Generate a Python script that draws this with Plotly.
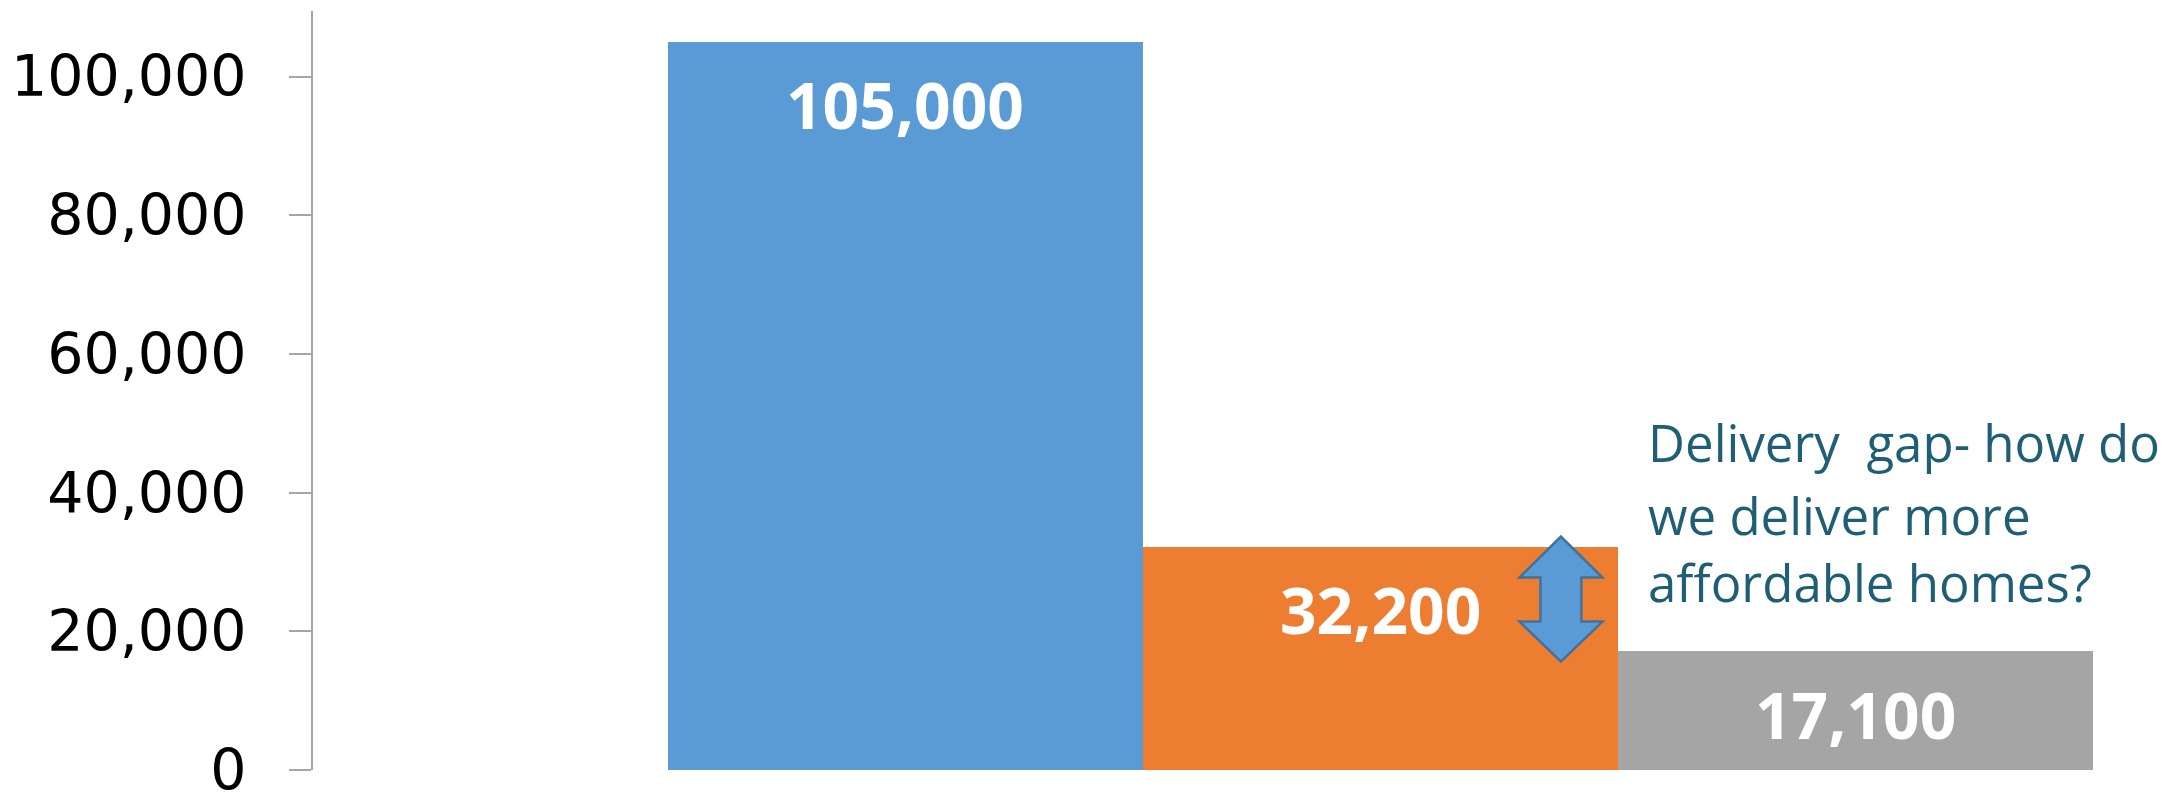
import plotly.graph_objects as go

# ---- data ----
categories = ["A", "B", "C"]
values = [105000, 32200, 17100]
bar_colors = ["#5B9BD5", "#ED7D31", "#A5A5A5"]
value_labels = ["105,000", "32,200", "17,100"]
tick_vals = [0, 20000, 40000, 60000, 80000, 100000]
tick_text = ["0", "20,000", "40,000", "60,000", "80,000", "100,000"]
note_lines = ["Delivery\u00a0 gap- how do", "we deliver more", "affordable homes?"]

# page body has an 8px default margin, so the figure is a bit smaller than the window
W, H = 2167, 786
fig = go.Figure()
fig.add_trace(go.Bar(
    x=categories, y=values, marker=dict(color=bar_colors, line=dict(width=0)),
    width=1, hoverinfo="skip", showlegend=False,
))

annotations = []
for c, v, t in zip(categories, values, value_labels):
    annotations.append(dict(
        x=c, y=v, xref="x", yref="y", text=t, showarrow=False,
        yanchor="middle", xanchor="center", yshift=-63,
        font=dict(family="Open Sans", size=64, color="white", weight="bold"),
    ))

# note text, placed over the gap
note_y = [47300, 36800, 27100]
for line, yv in zip(note_lines, note_y):
    annotations.append(dict(
        x=1.559, y=yv, xref="x", yref="y", text=line, showarrow=False,
        xanchor="left", yanchor="middle",
        font=dict(family="Open Sans", size=51, color="#1F5F75"),
    ))

# double-headed arrow between the orange and grey bar tops
gap_mid = (values[1] + values[2]) / 2
cx = -57
path = (
    f"M {cx},62.5 L {cx+41.5},21.5 L {cx+20.5},21.5 L {cx+20.5},-22.5 "
    f"L {cx+41.5},-22.5 L {cx},-62.5 L {cx-41.5},-22.5 L {cx-20.5},-22.5 "
    f"L {cx-20.5},21.5 L {cx-41.5},21.5 Z"
)
shapes = [dict(
    type="path", xref="x", yref="y", xsizemode="pixel", ysizemode="pixel",
    xanchor=1.5, yanchor=gap_mid, path=path,
    fillcolor="#5B9BD5", line=dict(color="#41719C", width=2.5),
)]

fig.update_layout(
    width=W, height=H, autosize=False,
    margin=dict(l=305, r=82, t=3, b=24, pad=0, autoexpand=False),
    paper_bgcolor="white", plot_bgcolor="white",
    bargap=0,
    annotations=annotations, shapes=shapes,
    xaxis=dict(range=[-1.247, 2.5], showticklabels=False, showline=False,
               showgrid=False, zeroline=False, ticks="", automargin=False),
    yaxis=dict(range=[0, 109450], tickvals=tick_vals, ticktext=tick_text,
               showgrid=False, zeroline=False, showline=True,
               linecolor="#A6A6A6", linewidth=2,
               ticks="outside", ticklen=22, tickcolor="#A6A6A6", tickwidth=2,
               ticklabelstandoff=31, ticklabeloverflow="allow", automargin=False,
               tickfont=dict(family="DejaVu Sans", size=57, color="black")),
)

fig.write_html("out.html")
